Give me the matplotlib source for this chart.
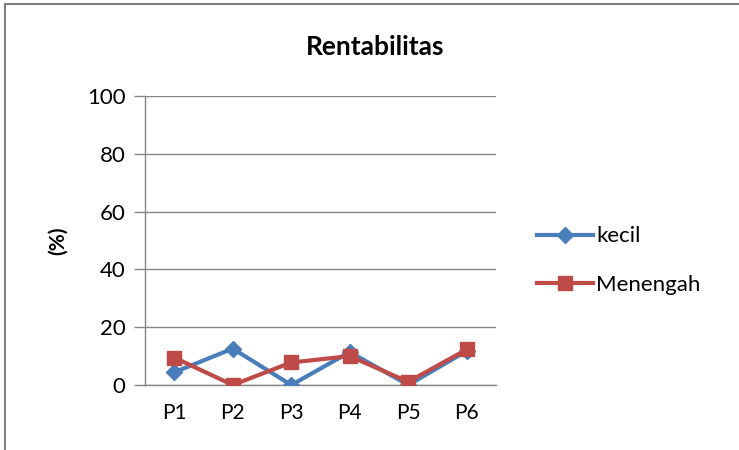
import numpy as np
import matplotlib.pyplot as plt
from matplotlib.lines import Line2D

plt.rcParams['font.family'] = ['Lato', 'DejaVu Sans']

# rentabilitas per periode (%)
periode = ['P1', 'P2', 'P3', 'P4', 'P5', 'P6']
kecil = [4.4, 12.6, 0.0, 11.4, 0.0, 11.8]
menengah = [9.5, 0.0, 7.8, 10.0, 1.1, 12.3]

blue = '#4A7EBB'
red = '#BE4B48'
grid = '#868686'

fig = plt.figure(figsize=(7.39, 4.5), dpi=100)
ax = fig.add_axes([0.1962, 0.1444, 0.475, 0.6423])

x = np.arange(len(periode))
ax.plot(x, kecil, color=blue, lw=3, marker='D', ms=8, label='kecil', zorder=3)
ax.plot(x, menengah, color=red, lw=3, marker='s', ms=10, label='Menengah', zorder=4)

ax.set_xlim(-0.5, len(periode) - 0.5)
ax.set_ylim(0, 100)
ax.set_yticks(range(0, 101, 20))
ax.set_xticks(x)
ax.set_xticklabels(periode)
ax.yaxis.grid(True, color=grid, lw=1)
ax.set_axisbelow(True)

for s in ['top', 'right']:
    ax.spines[s].set_visible(False)
for s in ['left', 'bottom']:
    ax.spines[s].set_color(grid)
    ax.spines[s].set_linewidth(1)
ax.spines['bottom'].set_zorder(1)

ax.tick_params(axis='y', direction='out', length=8, color=grid, width=1,
               labelsize=16, pad=6)
ax.tick_params(axis='x', length=0, labelsize=15, pad=13)

ax.set_ylabel('(%)', fontsize=15, fontweight='bold', labelpad=14)
fig.text(0.508, 0.895, 'Rentabilitas', ha='center', va='center',
         fontsize=19, fontweight='bold')

ax.legend(loc='center left', bbox_to_anchor=(1.06, 0.43), frameon=False,
          fontsize=16, handlelength=2.5, handletextpad=0.15, labelspacing=1.3)

# chart frame
fig.add_artist(Line2D([0.007, 0.007], [0, 0.991], color='#7F7F7F', lw=1.5,
                      transform=fig.transFigure))
fig.add_artist(Line2D([0.007, 1], [0.991, 0.991], color='#7F7F7F', lw=1.5,
                      transform=fig.transFigure))

fig.savefig('out.png', dpi=100)
